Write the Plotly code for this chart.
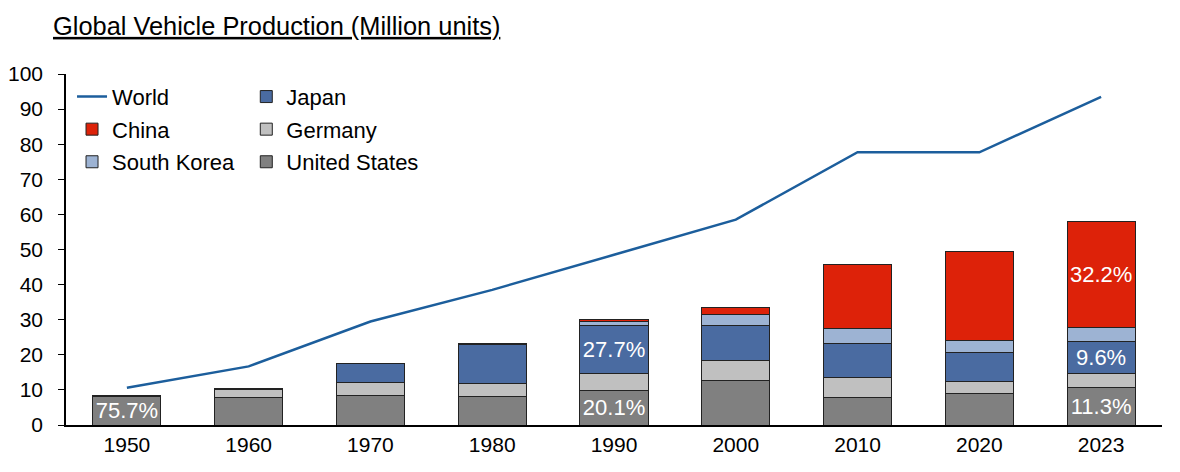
import plotly.graph_objects as go

years = ["1950", "1960", "1970", "1980", "1990", "2000", "2010", "2020", "2023"]
world = [10.6, 16.7, 29.5, 38.5, 48.5, 58.5, 77.7, 77.7, 93.5]
us = [8.0, 7.9, 8.3, 8.0, 9.8, 12.8, 7.7, 8.9, 10.6]
germany = [0.3, 2.1, 3.8, 3.9, 5.0, 5.5, 5.9, 3.6, 4.1]
japan = [0.03, 0.5, 5.3, 11.0, 13.5, 10.1, 9.6, 8.1, 9.0]
korea = [0.0, 0.0, 0.03, 0.12, 1.3, 3.1, 4.3, 3.5, 4.2]
china = [0.0, 0.0, 0.0, 0.2, 0.5, 2.1, 18.3, 25.2, 30.2]

us_labels = ["75.7%", "", "", "", "20.1%", "", "", "", "11.3%"]
germany_labels = ["", "", "", "", "", "", "", "", ""]
japan_labels = ["", "", "", "", "27.7%", "", "", "", "9.6%"]
korea_labels = ["", "", "", "", "", "", "", "", ""]
china_labels = ["", "", "", "", "", "", "", "", "32.2%"]

FONT = "Liberation Sans, Arial, sans-serif"
OUTLINE = dict(color="#222222", width=1)

fig = go.Figure()

series = [
    ("United States", us, us_labels, "#808080", "legend2", 3),
    ("Germany", germany, germany_labels, "#c0c0c0", "legend2", 2),
    ("Japan", japan, japan_labels, "#4a6ba1", "legend2", 1),
    ("South Korea", korea, korea_labels, "#9db3d3", "legend", 3),
    ("China", china, china_labels, "#dd2209", "legend", 2),
]
for name, vals, labels, color, leg, rank in series:
    fig.add_trace(go.Bar(
        x=years, y=vals, name=name, text=labels,
        textposition="inside", insidetextanchor="middle",
        textfont=dict(color="white", size=22, family=FONT),
        constraintext="none", textangle=0,
        marker=dict(color=color, line=OUTLINE),
        legend=leg, legendrank=rank, legendgroup=name,
        hoverinfo="x+y+name",
    ))

fig.add_trace(go.Scatter(
    x=years, y=world, name="World", mode="lines",
    line=dict(color="#1c5e9c", width=2.5),
    legend="legend", legendrank=1, legendgroup="World",
))

fig.update_layout(
    width=1180, height=472,
    margin=dict(l=66, r=18, t=74, b=47),
    paper_bgcolor="white", plot_bgcolor="white",
    barmode="stack", bargap=0.44,
    font=dict(family=FONT, size=21, color="black"),
    title=dict(
        text="<u>Global Vehicle Production (Million units)</u>",
        x=53 / 1180, xanchor="left", xref="container",
        y=1 - 26 / 472, yanchor="middle", yref="container",
        font=dict(size=25.4, family=FONT, color="black"),
    ),
    legend=dict(
        x=0.0055, y=0.995, xanchor="left", yanchor="top",
        orientation="v", bgcolor="rgba(0,0,0,0)",
        font=dict(size=22, family=FONT), tracegroupgap=1,
    ),
    legend2=dict(
        x=0.1645, y=0.995, xanchor="left", yanchor="top",
        orientation="v", bgcolor="rgba(0,0,0,0)",
        font=dict(size=22, family=FONT), tracegroupgap=1,
    ),
    showlegend=True,
)

fig.update_xaxes(
    type="category", showline=True, linecolor="black", linewidth=1.5,
    ticks="", showgrid=False, tickfont=dict(size=21, family=FONT),
    automargin=False,
)
fig.update_yaxes(
    range=[0, 100], dtick=10, showline=True, linecolor="black", linewidth=1.5,
    ticks="outside", ticklen=6, tickcolor="black", showgrid=False,
    tickfont=dict(size=21, family=FONT), zeroline=False,
    ticklabelstandoff=11, automargin=False,
)

fig.write_html("out.html")
